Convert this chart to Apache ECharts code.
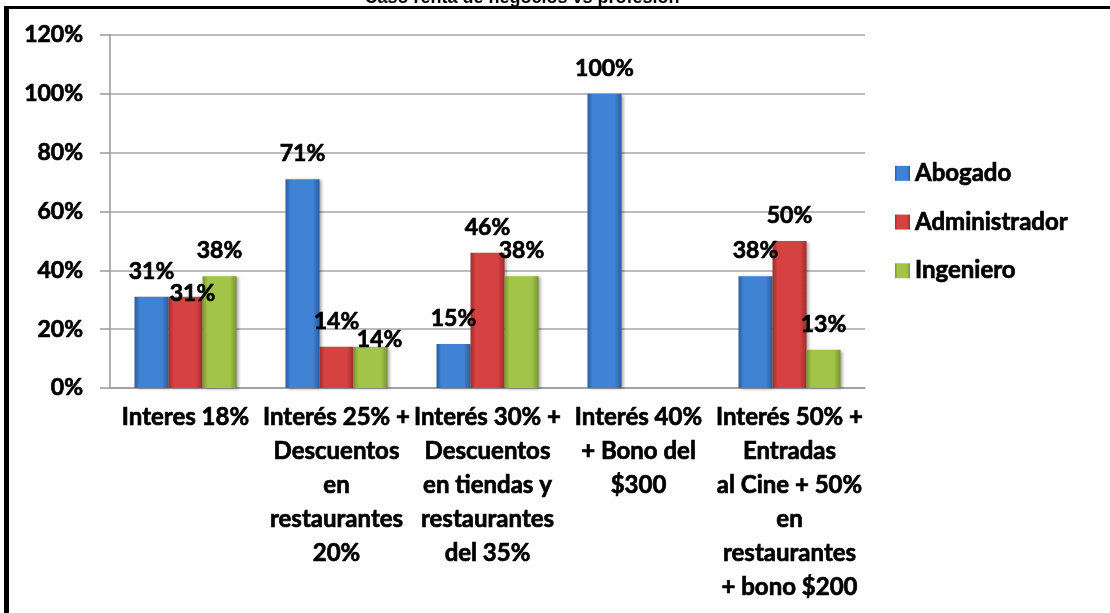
<!DOCTYPE html>
<html>
<head>
<meta charset="utf-8">
<script src="https://cdn.jsdelivr.net/npm/echarts@6/dist/echarts.min.js"></script>
<style>
  html, body { margin: 0; padding: 0; background: #fff; }
  #chart { width: 1110px; height: 613px; }
</style>
</head>
<body>
<div id="chart"></div>
<script>
// datos
const categorias = [
  'Interes 18%',
  'Interés 25% +\nDescuentos\nen\nrestaurantes\n20%',
  'Interés 30% +\nDescuentos\nen tiendas y\nrestaurantes\ndel 35%',
  'Interés 40%\n+ Bono del\n$300',
  'Interés 50% +\nEntradas\nal Cine + 50%\nen\nrestaurantes\n+ bono $200'
];
const abogado = [31, 71, 15, 100, 38];
const administrador = [31, 14, 46, null, 50];
const ingeniero = [38, 14, 38, null, 13];
const ticksY = [0, 20, 40, 60, 80, 100, 120];

const FONT = 'Lato, "Liberation Sans", sans-serif';
// trazo fino para engrosar la letra, como la Calibri negrita del original
const grueso = { fontFamily: FONT, fontWeight: 'bold', color: '#000', textBorderColor: '#000', textBorderWidth: 0.7 };

function bevel(edge, mid) {
  return {
    type: 'linear', x: 0, y: 0, x2: 1, y2: 0,
    colorStops: [
      { offset: 0, color: edge },
      { offset: 0.15, color: mid },
      { offset: 0.8, color: mid },
      { offset: 1, color: edge }
    ]
  };
}

// etiquetas que Excel desplazó hacia abajo
const ajustes = {
  'Administrador-0': [7, 22],
  'Ingeniero-1': [9, 18]
};

function serie(nombre, valores, edge, mid) {
  return {
    name: nombre,
    type: 'bar',
    barWidth: 34,
    barGap: '0%',
    itemStyle: {
      color: bevel(edge, mid),
      shadowBlur: 3,
      shadowOffsetX: 2,
      shadowOffsetY: 1,
      shadowColor: 'rgba(0,0,0,0.35)'
    },
    label: Object.assign({
      show: true,
      position: 'top',
      distance: 14,
      formatter: '{c}%',
      fontSize: 23
    }, grueso),
    data: valores.map((v, i) => {
      const off = ajustes[nombre + '-' + i];
      if (!off) return v;
      return { value: v, label: { offset: off } };
    })
  };
}

const chart = echarts.init(document.getElementById('chart'));
chart.setOption({
  animation: false,
  backgroundColor: '#fff',
  grid: { left: 110, right: 245, top: 35, bottom: 225 },
  legend: {
    orient: 'vertical',
    left: 890,
    top: 156,
    itemWidth: 15,
    itemHeight: 15,
    itemGap: 24,
    icon: 'rect',
    textStyle: Object.assign({ fontSize: 24 }, grueso),
    data: ['Abogado', 'Administrador', 'Ingeniero']
  },
  xAxis: {
    type: 'category',
    data: categorias,
    axisLine: { lineStyle: { color: '#999', width: 1.5 } },
    axisTick: { length: 8, lineStyle: { color: '#999', width: 1.5 } },
    axisLabel: Object.assign({
      interval: 0,
      margin: 12,
      fontSize: 24,
      lineHeight: 34,
      align: 'center'
    }, grueso)
  },
  yAxis: {
    type: 'value',
    min: ticksY[0],
    max: ticksY[ticksY.length - 1],
    interval: 20,
    axisLine: { show: true, lineStyle: { color: '#999', width: 1.5 } },
    axisTick: { show: true, length: 10, lineStyle: { color: '#999', width: 1.5 } },
    splitLine: { lineStyle: { color: '#a6a6a6', width: 1.5 } },
    axisLabel: Object.assign({
      margin: 27,
      formatter: '{value}%',
      fontSize: 23
    }, grueso)
  },
  series: [
    serie('Abogado', abogado, '#2a5c9e', '#4083d4'),
    serie('Administrador', administrador, '#a02c2c', '#d64242'),
    serie('Ingeniero', ingeniero, '#78962c', '#a2c448')
  ],
  graphic: [
    {
      type: 'text', x: 522, y: -11, z: 1,
      style: { text: 'Caso renta de negocios vs profesión', align: 'center', font: 'bold 18px "Liberation Sans", Arial, sans-serif', fill: '#000' }
    },
    { type: 'rect', shape: { x: 4, y: 6, width: 1106, height: 3 }, style: { fill: '#000' }, z: 10 },
    { type: 'rect', shape: { x: 4, y: 6, width: 5, height: 607 }, style: { fill: '#000' }, z: 10 }
  ]
});
</script>
</body>
</html>
